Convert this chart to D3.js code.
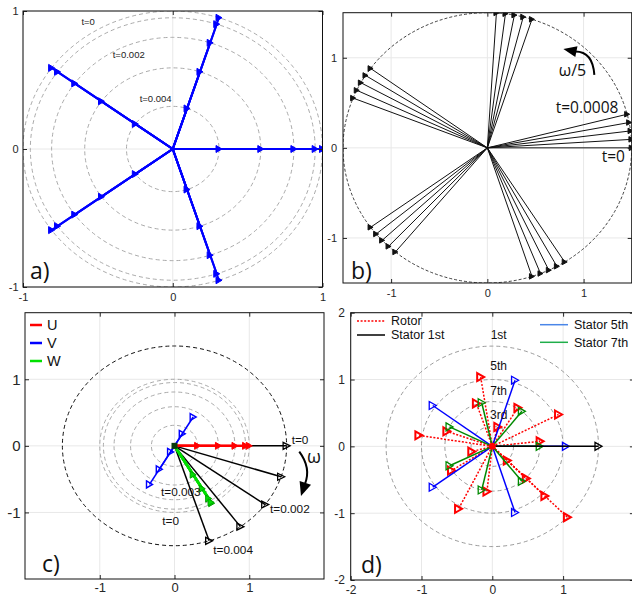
<!DOCTYPE html>
<html><head><meta charset="utf-8">
<script src="https://d3js.org/d3.v7.min.js"></script>
<style>body{margin:0;background:#fff;} svg{display:block;}</style>
</head><body><svg id="c" width="632" height="597"></svg>
<script>
// ---------------- DATA ----------------
// Panel a: pulsating single-phase field, vector lengths at t = 0 ... 0.004 s
const timesA = [0, 0.001, 0.002, 0.003, 0.004];
const magsA = [1, 0.951, 0.809, 0.588, 0.309];
const spokeAnglesA = [0, 72, 144, 216, 288];
const circleRadiiA = [1, 0.951, 0.809, 0.588, 0.309];
const ticksA = [-1, 0, 1];

// Panel b: rotating 5-fold field, t = 0 ... 0.0008 s
const groupAnglesB = [0, 72, 144, 216, 288];
const stepAnglesB = [0, 3.6, 7.2, 10.8, 14.4];
const magB = 1.5;
const ticksB = [-1, 0, 1];

// Panel c: three phases and resultant, t = 0 ... 0.004 s
const phaseU = [1, 0.951, 0.809, 0.588, 0.309];      // along 0 deg
const phaseV = [0.5, 0.208, -0.105, -0.407, -0.669];  // along 60 deg
const phaseW = [0.5, 0.743, 0.914, 0.995, 0.978];     // along -60 deg
const phaseDirs = [0, 60, -60];
const resultantAnglesC = [0, -18, -36, -54, -72];
const resultantMagC = 1.5;
const circleRadiiC = [1, 0.951, 0.809, 0.588, 0.309];
const outerRadiusC = 1.5;
const ticksC = [-1, 0, 1];
const legendC = ["U", "V", "W"];

// Panel d: harmonic vectors
const stator1Angles = [0];            const stator1Mag = 1.5;
const stator5Angles = [0, 72, 144, 216, 288];   const stator5Mag = 1.04;
const stator7Angles = [0, 51.4, 102.9, 154.3, 205.7, 257.1, 308.6]; const stator7Mag = 0.67;
const rotor1Angles = [315];           const rotor1Mag = 1.5;
const rotor5Angles = [27, 99, 171, 243, 315];   const rotor5Mag = 1.05;
const rotor7Angles = [6.4, 57.9, 109.3, 160.7, 212.1, 263.6, 315]; const rotor7Mag = 0.68;
const rotor3Angles = [75, 195, 315];  const rotor3Mag = 0.3;
const circleRadiiD = [1.5, 1.0, 0.67, 0.3];
const circleLabelsD = ["1st", "5th", "7th", "3rd"];
const ticksDx = [-2, -1, 0, 1];
const ticksDy = [-2, -1, 0, 1, 2];
const legendD = ["Rotor", "Stator 1st", "Stator 5th", "Stator 7th"];

// ---------------- HELPERS ----------------
const svg = d3.select("#c");
const defs = svg.append("defs");
const rad = Math.PI / 180;
const SANS = "'Liberation Sans', Arial, sans-serif";
const OPEN = "'Open Sans', 'Noto Sans', sans-serif";
const tri = (w, h) => `M${-w/2},${-h/2}L${w/2},0L${-w/2},${h/2}Z`;
const px = (m, a) => m * Math.cos(a * rad);
const py = (m, a) => m * Math.sin(a * rad);

function panel(p) {
  const x = d3.scaleLinear().domain(p.xDomain).range([p.left, p.right]);
  const y = d3.scaleLinear().domain(p.yDomain).range([p.bottom, p.top]);
  const root = svg.append("g");
  defs.append("clipPath").attr("id", "clip-" + p.id).append("rect")
    .attr("x", p.left).attr("y", p.top).attr("width", p.right - p.left).attr("height", p.bottom - p.top);
  const grid = root.append("g").attr("stroke", "#e8e8e8").attr("stroke-width", 1);
  grid.selectAll(null).data(p.xTicks).join("line")
    .attr("x1", d => x(d)).attr("x2", d => x(d)).attr("y1", p.top).attr("y2", p.bottom);
  grid.selectAll(null).data(p.yTicks).join("line")
    .attr("y1", d => y(d)).attr("y2", d => y(d)).attr("x1", p.left).attr("x2", p.right);
  const plot = root.append("g").attr("clip-path", `url(#clip-${p.id})`);
  return { x, y, root, plot, p };
}

function finish(P) {
  const p = P.p;
  const style = (fs) => g => {
    g.select(".domain").remove();
    g.selectAll("line").attr("stroke", "#262626");
    g.selectAll("text").attr("fill", "#262626").style("font-family", SANS).style("font-size", fs + "px");
  };
  const fmt = d => String(d);
  P.root.append("g").attr("transform", `translate(0,${p.bottom})`)
    .call(d3.axisBottom(P.x).tickValues(p.xTicks).tickSizeInner(-4).tickSizeOuter(0).tickPadding(p.xPad).tickFormat(fmt)).call(style(p.xFontSize || p.fontSize));
  P.root.append("g").attr("transform", `translate(0,${p.top})`)
    .call(d3.axisTop(P.x).tickValues(p.xTicks).tickSizeInner(-4).tickSizeOuter(0).tickFormat("")).call(style(p.fontSize));
  P.root.append("g").attr("transform", `translate(${p.left},0)`)
    .call(d3.axisLeft(P.y).tickValues(p.yTicks).tickSizeInner(-4).tickSizeOuter(0).tickPadding(p.yPad).tickFormat(fmt)).call(style(p.fontSize));
  P.root.append("g").attr("transform", `translate(${p.right},0)`)
    .call(d3.axisRight(P.y).tickValues(p.yTicks).tickSizeInner(-4).tickSizeOuter(0).tickFormat("")).call(style(p.fontSize));
  P.root.append("rect").attr("x", p.left).attr("y", p.top)
    .attr("width", p.right - p.left).attr("height", p.bottom - p.top)
    .attr("fill", "none").attr("stroke", "#111").attr("stroke-width", 1);
  P.root.append("text").attr("x", p.tagX).attr("y", p.tagY).text(p.tag)
    .style("font-family", OPEN).style("font-size", "23px").attr("fill", "#111");
}

function ellipses(P, radii, stroke, dash, width) {
  P.plot.append("g").selectAll(null).data(radii).join("ellipse")
    .attr("cx", P.x(0)).attr("cy", P.y(0))
    .attr("rx", d => P.x(d) - P.x(0)).attr("ry", d => P.y(0) - P.y(d))
    .attr("fill", "none").attr("stroke", stroke).attr("stroke-dasharray", dash).attr("stroke-width", width);
}

function vectors(P, vecs, o) {
  const g = P.plot.append("g");
  g.selectAll(null).data(vecs).join("line")
    .attr("x1", P.x(0)).attr("y1", P.y(0))
    .attr("x2", d => P.x(d.x)).attr("y2", d => P.y(d.y))
    .attr("stroke", o.color).attr("stroke-width", o.width)
    .attr("stroke-dasharray", o.dash || null);
  g.selectAll(null).data(vecs).join("path")
    .attr("d", tri(o.mw, o.mh))
    .attr("transform", d => `translate(${P.x(d.x)},${P.y(d.y)})`)
    .attr("fill", o.fill).attr("stroke", o.mstroke || o.color).attr("stroke-width", o.mwidth || 1)
    .attr("stroke-linejoin", "miter");
  return g;
}

function label(P, txt, dx, dy, o) {
  P.root.append("text").attr("x", P.x(dx)).attr("y", P.y(dy)).attr("dy", "0.35em")
    .attr("text-anchor", o.anchor || "start").text(txt)
    .style("font-family", o.font || SANS).style("font-size", o.size + "px").attr("fill", o.color || "#111");
}

function curvedArrow(P, pts, headTip, headW) {
  const [s, c, e] = pts.map(q => [P.x(q[0]), P.y(q[1])]);
  P.root.append("path").attr("d", `M${s[0]},${s[1]}Q${c[0]},${c[1]} ${e[0]},${e[1]}`)
    .attr("fill", "none").attr("stroke", "#000").attr("stroke-width", 2);
  const t = [P.x(headTip[0]), P.y(headTip[1])];
  const ang = Math.atan2(t[1] - e[1], t[0] - e[0]);
  const nx = -Math.sin(ang) * headW, ny = Math.cos(ang) * headW;
  const bx = e[0] - Math.cos(ang) * 1, by = e[1] - Math.sin(ang) * 1;
  P.root.append("path").attr("d", `M${t[0]},${t[1]}L${bx + nx},${by + ny}L${bx - nx},${by - ny}Z`).attr("fill", "#000");
}

// ---------------- PANEL A ----------------
const A = panel({ id: "a", left: 23, right: 322.5, top: 11, bottom: 287, xDomain: [-1, 1], yDomain: [-1, 1],
  xTicks: ticksA, yTicks: ticksA, fontSize: 11, xPad: 6, yPad: 4.5, tag: "a)", tagX: 30, tagY: 279 });
ellipses(A, circleRadiiA, "#a0a0a0", "4,3", 0.9);
const vecA = spokeAnglesA.flatMap(a => magsA.map(m => ({ x: px(m, a), y: py(m, a) })));
vectors(A, vecA, { color: "#0000ff", width: 2, fill: "#0000ff", mw: 6, mh: 7 });
label(A, "t=0", -0.565, 0.923, { size: 9.5, anchor: "middle", color: "#222" });
label(A, "t=0.002", -0.294, 0.686, { size: 9.5, anchor: "middle", color: "#222" });
label(A, "t=0.004", -0.114, 0.367, { size: 9.5, anchor: "middle", color: "#222" });
finish(A);

// ---------------- PANEL B ----------------
const B = panel({ id: "b", left: 343, right: 631.7, top: 12.7, bottom: 283, xDomain: [-1.5, 1.5], yDomain: [-1.5, 1.5],
  xTicks: ticksB, yTicks: ticksB, fontSize: 11, xPad: 6.5, yPad: 6, tag: "b)", tagX: 351, tagY: 279 });
ellipses(B, [magB], "#111", "3,2", 0.8);
const vecB = groupAnglesB.flatMap(g => stepAnglesB.map(s => ({ x: px(magB, g + s), y: py(magB, g + s) })));
vectors(B, vecB, { color: "#111", width: 1, fill: "#111", mw: 5, mh: 5.5 });
label(B, "ω/5", 0.885, 0.86, { size: 16, anchor: "middle", font: OPEN });
label(B, "t=0.0008", 1.036, 0.452, { size: 15.5, anchor: "middle", font: OPEN });
label(B, "t=0", 1.309, -0.097, { size: 15.5, anchor: "middle", font: OPEN });
curvedArrow(B, [[1.112, 0.81], [1.095, 1.07], [0.915, 1.07]], [0.79, 1.097], 5.5);
finish(B);

// ---------------- PANEL C ----------------
const C = panel({ id: "c", left: 25, right: 324, top: 312.7, bottom: 579, xDomain: [-2, 2], yDomain: [-2, 2],
  xTicks: ticksC, yTicks: ticksC, fontSize: 15, xFontSize: 13, xPad: 4, yPad: 4.5, tag: "c)", tagX: 42, tagY: 572 });
ellipses(C, circleRadiiC, "#a0a0a0", "4,3", 0.9);
ellipses(C, [outerRadiusC], "#111", "4,3", 1);
const vecR = resultantAnglesC.map(a => ({ x: px(resultantMagC, a), y: py(resultantMagC, a) }));
vectors(C, vecR, { color: "#000", width: 1.5, fill: "none", mw: 7, mh: 7, mwidth: 1.3 });
const vecU = phaseU.map(m => ({ x: px(m, phaseDirs[0]), y: py(m, phaseDirs[0]) }));
vectors(C, vecU, { color: "#ff0000", width: 2.2, fill: "#ff0000", mw: 6, mh: 7 });
const vecV = phaseV.map(m => ({ x: px(m, phaseDirs[1]), y: py(m, phaseDirs[1]) }));
vectors(C, vecV, { color: "#0000ff", width: 1.6, fill: "none", mw: 6, mh: 7, mwidth: 1.4 });
const vecW = phaseW.map(m => ({ x: px(m, phaseDirs[2]), y: py(m, phaseDirs[2]) }));
vectors(C, vecW, { color: "#00e000", width: 2.6, fill: "#00e000", mw: 6, mh: 7, mstroke: "#00a000" });
C.plot.append("rect").attr("x", C.x(0) - 3).attr("y", C.y(0) - 3).attr("width", 6).attr("height", 6)
  .attr("fill", "#0a3a0a");
label(C, "t=0", 1.568, 0.088, { size: 11.8 });
label(C, "ω", 1.866, -0.163, { size: 18, anchor: "middle", font: OPEN });
label(C, "t=0.002", 1.278, -0.953, { size: 11.8 });
label(C, "t=0.004", 0.519, -1.564, { size: 11.8 });
label(C, "t=0.003", -0.181, -0.689, { size: 11.8 });
label(C, "t=0", -0.163, -1.124, { size: 11.8 });
curvedArrow(C, [[1.669, -0.088], [1.83, -0.33], [1.746, -0.57]], [1.692, -0.753], 6);
// legend c
const legColorsC = ["#ff0000", "#0000ff", "#00e000"];
const legC = C.root.append("g");
legC.selectAll("line").data(legendC).join("line")
  .attr("x1", 30).attr("x2", 42).attr("y1", (d, i) => 325 + i * 18).attr("y2", (d, i) => 325 + i * 18)
  .attr("stroke", (d, i) => legColorsC[i]).attr("stroke-width", 2.5);
legC.selectAll("text").data(legendC).join("text")
  .attr("x", 47).attr("y", (d, i) => 325 + i * 18).attr("dy", "0.36em").text(d => d)
  .style("font-family", SANS).style("font-size", "14.5px").attr("fill", "#111");
finish(C);

// ---------------- PANEL D ----------------
const D = panel({ id: "d", left: 350.7, right: 633.9, top: 312.7, bottom: 580, xDomain: [-2, 2], yDomain: [-2, 2],
  xTicks: ticksDx, yTicks: ticksDy, fontSize: 12, xPad: 5.8, yPad: 5.7, tag: "d)", tagX: 361, tagY: 573 });
ellipses(D, circleRadiiD, "#909090", "4,3", 0.9);
const toVec = (angles, m) => angles.map(a => ({ x: px(m, a), y: py(m, a) }));
const rotorStyle = { color: "#ff0000", width: 1.5, dash: "2,1.6", fill: "none", mw: 7, mh: 8, mwidth: 2 };
vectors(D, toVec(rotor1Angles, rotor1Mag), rotorStyle);
vectors(D, toVec(rotor5Angles, rotor5Mag), rotorStyle);
vectors(D, toVec(rotor7Angles, rotor7Mag), rotorStyle);
vectors(D, toVec(rotor3Angles, rotor3Mag), rotorStyle);
vectors(D, toVec(stator5Angles, stator5Mag), { color: "#0000ff", width: 1.5, fill: "none", mw: 7, mh: 8, mwidth: 1.3 });
vectors(D, toVec(stator7Angles, stator7Mag), { color: "#008a00", width: 1.5, fill: "none", mw: 7, mh: 8, mwidth: 1.3 });
vectors(D, toVec(stator1Angles, stator1Mag), { color: "#000", width: 1.5, fill: "none", mw: 7, mh: 8, mwidth: 1.3 });
D.plot.append("circle").attr("cx", D.x(0)).attr("cy", D.y(0)).attr("r", 3.5).attr("fill", "#ff0000");
const labelYD = [1.667, 1.203, 0.829, 0.47];
circleLabelsD.forEach((t, i) => label(D, t, 0.09, labelYD[i], { size: 12, anchor: "middle" }));
// legend d
const legD = D.root.append("g");
const legItems = [
  { x1: 357, y: 321, color: "#ff0000", dash: "2,1.6" },
  { x1: 357, y: 335, color: "#000", dash: null },
  { x1: 540, y: 324.7, color: "#4a86e8", dash: null },
  { x1: 540, y: 342.3, color: "#1fae4a", dash: null }
];
legD.selectAll("line").data(legItems).join("line")
  .attr("x1", d => d.x1).attr("x2", d => d.x1 + 28).attr("y1", d => d.y).attr("y2", d => d.y)
  .attr("stroke", d => d.color).attr("stroke-width", 1.5).attr("stroke-dasharray", d => d.dash);
legD.selectAll("text").data(legendD).join("text")
  .attr("x", (d, i) => legItems[i].x1 + 34).attr("y", (d, i) => legItems[i].y).attr("dy", "0.35em").text(d => d)
  .style("font-family", SANS).style("font-size", "12.5px").attr("fill", "#111");
finish(D);
</script></body></html>
